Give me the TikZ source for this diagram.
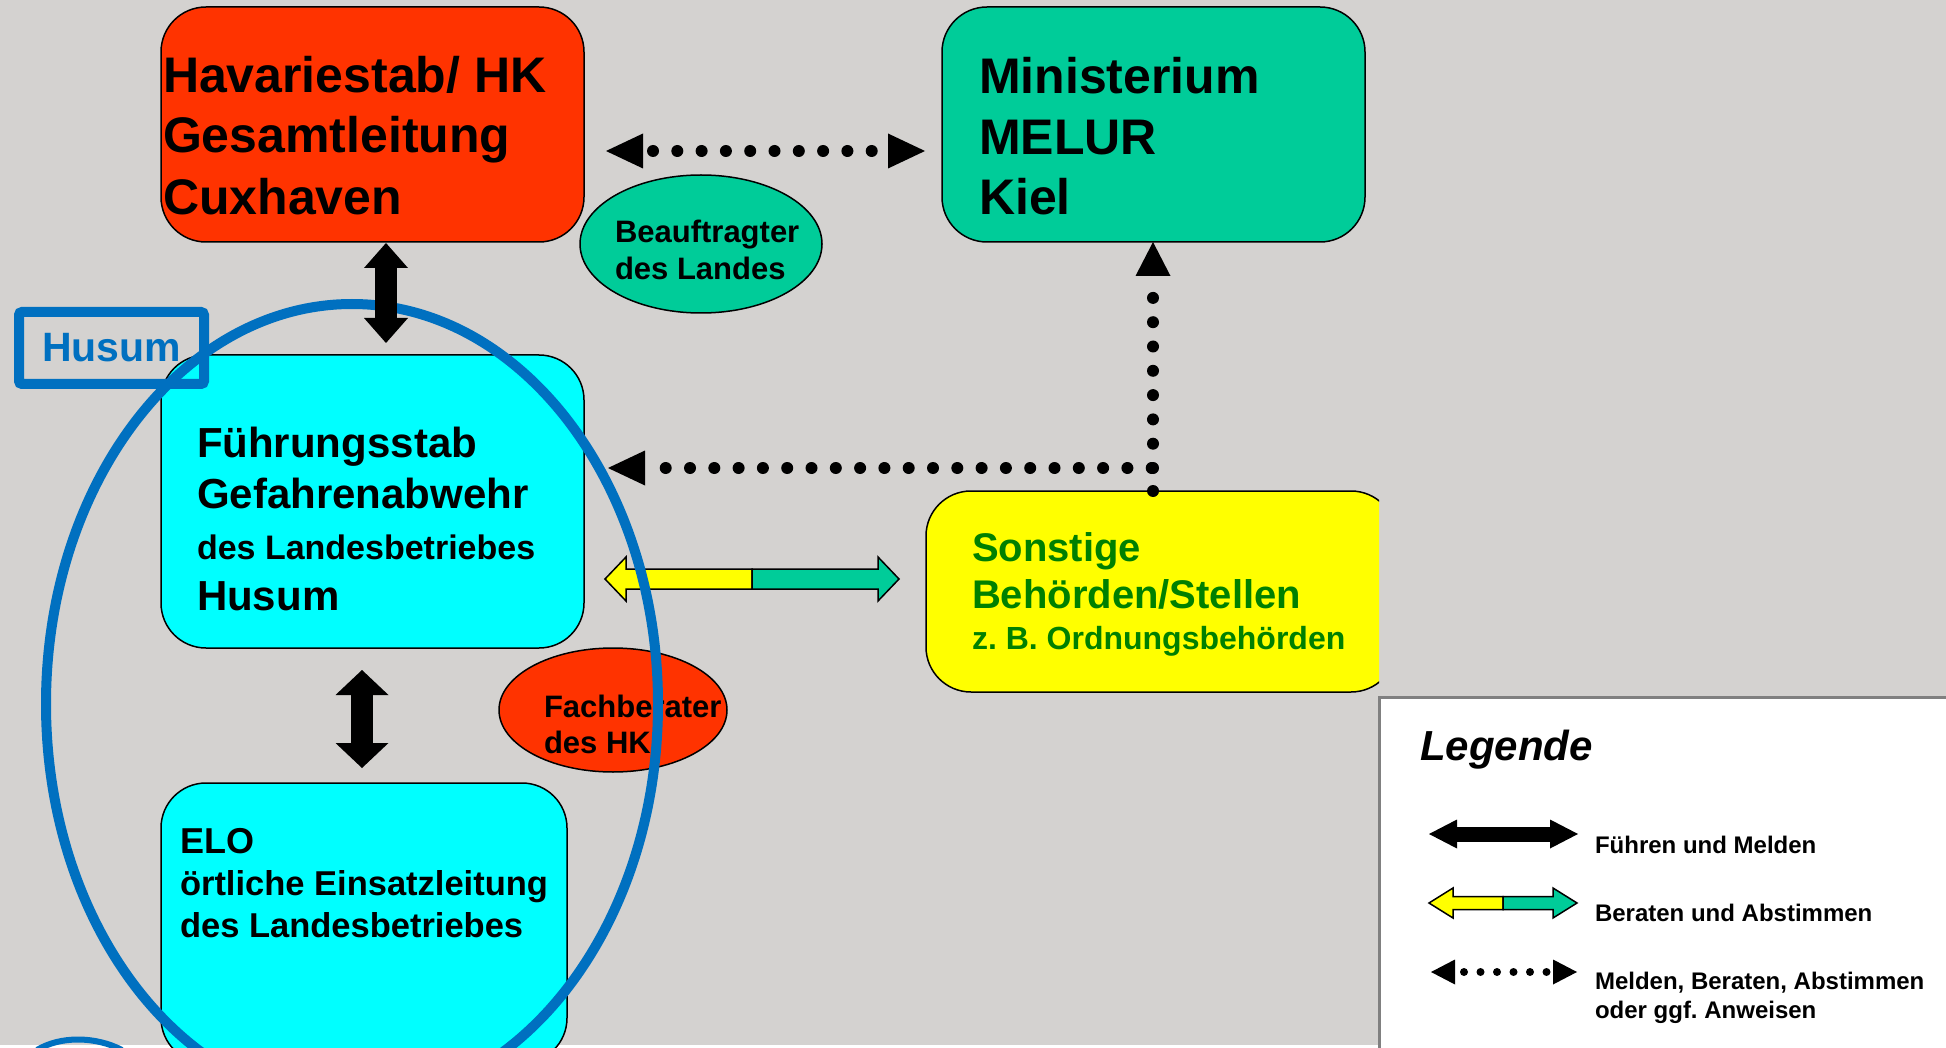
\documentclass[tikz,border=0pt]{standalone}
\usepackage{fontspec}
\setmainfont{Liberation Sans}
\usetikzlibrary{arrows.meta,shapes.geometric}
\frenchspacing
\definecolor{bgc}{RGB}{212,210,208}
\definecolor{hkred}{RGB}{255,51,0}
\definecolor{tealc}{RGB}{0,204,153}
\definecolor{cyanc}{RGB}{0,255,255}
\definecolor{yelc}{RGB}{255,255,0}
\definecolor{husblue}{RGB}{0,112,192}
\definecolor{dgreen}{RGB}{0,128,0}
\definecolor{leggray}{RGB}{128,128,128}
\tikzset{
  box/.style={draw=black, line width=1.5pt, rounded corners=45pt, inner sep=0pt, outer sep=0pt, anchor=north west},
  oval/.style={ellipse, draw=black, line width=1.5pt, inner sep=0pt, outer sep=0pt},
  txt/.style={anchor=base west, inner sep=0pt, outer sep=0pt},
  fbig/.style={font=\bfseries\fontsize{50}{60}\selectfont},
  fmid/.style={font=\bfseries\fontsize{42}{50}\selectfont},
  fsm/.style={font=\bfseries\fontsize{34}{40}\selectfont},
  fel/.style={font=\bfseries\fontsize{34.5}{40}\selectfont},
  fov/.style={font=\bfseries\fontsize{31}{36}\selectfont},
  fso/.style={font=\bfseries\fontsize{40}{48}\selectfont, text=dgreen},
  fsos/.style={font=\bfseries\fontsize{32}{38}\selectfont, text=dgreen},
  fleg/.style={font=\bfseries\fontsize{24}{29}\selectfont},
  dotline/.style={line width=12pt, line cap=round, dash pattern=on 0pt off 24.3pt},
  dtip/.tip={Triangle[length=37pt,width=35pt,line width=0pt]},
  dtipv/.tip={Triangle[length=34pt,width=35pt,line width=0pt]},
  ltip/.tip={Triangle[length=24pt,width=25pt,line width=0pt]},
  btipa/.tip={Triangle[length=25pt,width=44pt,line width=0pt]},
  btipb/.tip={Triangle[length=25pt,width=53pt,line width=0pt]},
  btipl/.tip={Triangle[length=28pt,width=29pt,line width=0pt]},
  pics/ytarrow/.style n args={4}{code={
    \filldraw[fill=yelc, draw=black, line width=1.5pt, line join=miter]
      (0,0) -- (#2,-#4) -- (#2,-#3) -- ({#1/2},-#3) -- ({#1/2},#3) -- (#2,#3) -- (#2,#4) -- cycle;
    \filldraw[fill=tealc, draw=black, line width=1.5pt, line join=miter]
      ({#1/2},-#3) -- ({#1-#2},-#3) -- ({#1-#2},-#4) -- (#1,0) -- ({#1-#2},#4) -- ({#1-#2},#3) -- ({#1/2},#3) -- cycle;
  }}
}
\begin{document}
\begin{tikzpicture}[x=1pt,y=-1pt]
\useasboundingbox (0,0) rectangle (1946,1048);
\fill[bgc] (0,0) rectangle (1946,1048);
\fill[white] (0,1045) rectangle (1946,1048);
\draw[husblue, line width=6pt] (37,1050) .. controls (60,1036) and (95,1036) .. (122,1050);

% boxes
\node[box, fill=hkred, minimum width=423pt, minimum height=235pt] (hav) at (161,7) {};
\node[box, fill=tealc, minimum width=423pt, minimum height=235pt] (min) at (942,7) {};
\node[box, fill=cyanc, minimum width=423pt, minimum height=293pt] (fue) at (161,355) {};
\node[box, fill=cyanc, minimum width=406pt, minimum height=280pt] (elo) at (161,783) {};
\begin{scope}
  \clip (0,0) rectangle (1379,1048);
  \node[box, fill=yelc, minimum width=470pt, minimum height=201pt] (son) at (926,491) {};
\end{scope}
\node[oval, fill=tealc, minimum width=242pt, minimum height=138pt] (beauf) at (701,244) {};
\node[oval, fill=hkred, minimum width=228pt, minimum height=124pt] (fach) at (613,710) {};

% texts
\node[txt, fbig] (hav1) at (163,93) {Havariestab/ HK};
\node[txt, fbig] (hav2) at (163,153) {Gesamtleitung};
\node[txt, fbig] (hav3) at (163,215) {Cuxhaven};
\node[txt, fbig] (min1) at (979,94) {Ministerium};
\node[txt, fbig] (min2) at (979,155) {MELUR};
\node[txt, fbig] (min3) at (979,215) {Kiel};
\node[txt, fov] (be1) at (615,243) {Beauftragter};
\node[txt, fov] (be2) at (615,280) {des Landes};
\node[txt, fmid] (fu1) at (197,457) {Führungsstab};
\node[txt, fmid] (fu2) at (197,508) {Gefahrenabwehr};
\node[txt, fsm] (fu3) at (197,559) {des Landesbetriebes};
\node[txt, fmid] (fu4) at (197,610) {Husum};
\node[txt, fso] (so1) at (972,561) {Sonstige};
\node[txt, fso] (so2) at (972,608) {Behörden/Stellen};
\node[txt, fsos] (so3) at (972,649) {z. B. Ordnungsbehörden};
\node[txt, fov] (fa1) at (544,717) {Fachberater};
\node[txt, fov] (fa2) at (544,753) {des HK};
\node[txt, font=\bfseries\fontsize{36}{42}\selectfont] (el1) at (180,853) {ELO};
\node[txt, fel] (el2) at (180,895) {örtliche Einsatzleitung};
\node[txt, fel] (el3) at (180,937) {des Landesbetriebes};

% Beraten und Abstimmen arrow
\pic (yt) at (605,579) {ytarrow={294}{21}{10}{22}};

% big blue ellipse
\node[ellipse, draw=husblue, line width=10pt, minimum width=612pt, minimum height=800pt, inner sep=0pt] (husell) at (352,704) {};

% dotted arrows
\draw[dotline, dash phase=14.3pt, arrows={dtip-dtip}, shorten <=22pt, shorten >=17pt]
  ([yshift=-26.5pt]hav.east) -- ([yshift=-26.5pt]hav.east -| min.west);
\coordinate (cor) at (1153,468);
\draw[dotline, arrows={-dtip}, shorten >=24pt] (cor |- son.north) -- (cor) -- (cor -| fue.east);
\draw[dotline, arrows={-dtipv}] (cor) -- (cor |- min.south);

% black arrows
\draw[line width=22pt, arrows={btipa-btipa}, shorten <=1pt, shorten >=12pt]
  ([xshift=13.5pt]hav.south) -- ([xshift=13.5pt]hav.south |- fue.north);
\draw[line width=22pt, arrows={btipb-btipb}, shorten <=22pt, shorten >=15pt]
  ([xshift=-2pt]elo.north |- fue.south) -- ([xshift=-2pt]elo.north);

% Husum label
\node[draw=husblue, line width=10pt, rounded corners=3pt, minimum width=185pt, minimum height=72pt, inner sep=0pt,
      text=husblue, font=\bfseries\fontsize{41}{48}\selectfont] (huslab) at (111.5,348) {Husum};

% legend
\node[draw=leggray, fill=white, line width=3pt, anchor=north west, minimum width=600pt, minimum height=400pt, inner sep=0pt] (leg) at (1378,696) {};
\node[txt, font=\bfseries\itshape\fontsize{42}{50}\selectfont] (legt) at (1420,760) {Legende};
\coordinate (l1a) at (1429,834); \coordinate (l1b) at (1578,834);
\draw[line width=15pt, arrows={btipl-btipl}] (l1a) -- (l1b);
\node[txt, fleg] (lt1) at (1595,853) {Führen und Melden};
\pic (ly) at (1429,903) {ytarrow={148}{24}{6.5}{15}};
\node[txt, fleg] (lt2) at (1595,921) {Beraten und Abstimmen};
\coordinate (l3a) at (1431,972); \coordinate (l3b) at (1577,972);
\draw[line width=8pt, line cap=round, dash pattern=on 0pt off 16.5pt, dash phase=7.5pt, arrows={ltip-ltip}] (l3a) -- (l3b);
\node[txt, fleg] (lt3) at (1595,989) {Melden, Beraten, Abstimmen};
\node[txt, fleg] (lt4) at (1595,1018) {oder ggf. Anweisen};
\end{tikzpicture}
\end{document}
